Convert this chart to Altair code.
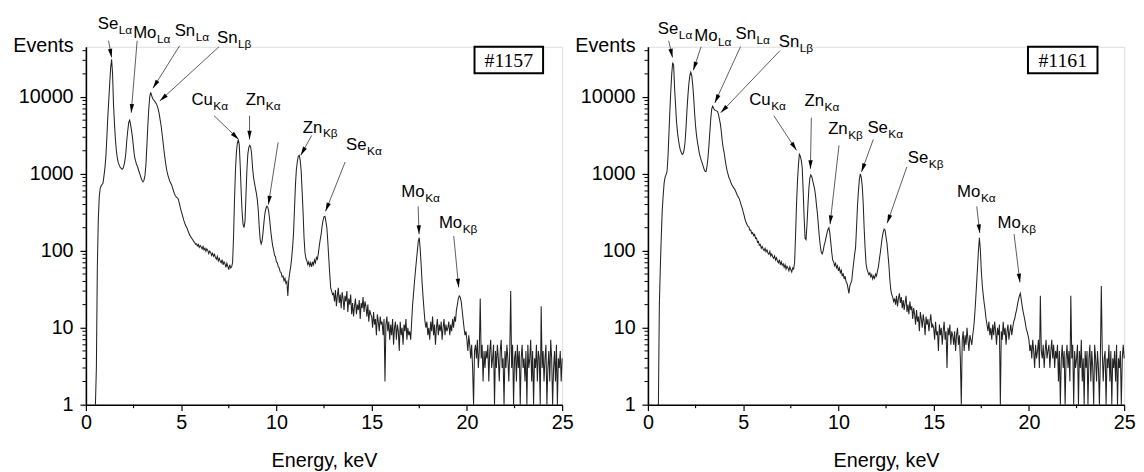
import math
import altair as alt
import pandas as pd

# ---------------- data ----------------
# channel energies: 0.50 .. 25.00 keV in 0.05 keV steps
E_START, E_STEP = 0.5, 0.05

counts_1157 = (
    [1, 3, 60, 250, 500, 650, 700, 730, 760, 950]
    + [1200, 1700, 3000, 5500, 9000, 15000, 24000, 31000, 20000, 8000, 4500, 2800, 2000, 1600, 1400, 1300, 1220, 1180, 1150, 1180]
    + [1300, 1500, 1900, 2800, 3700, 4700, 5000, 4300, 3600, 2900, 2200, 1700, 1500, 1350, 1260, 1150, 1050, 970, 880, 820]
    + [790, 830, 950, 1300, 2300, 4200, 7000, 10000, 11500, 10500, 9600, 9200, 8900, 8500, 8200, 7600, 6900, 6000, 5000, 4200]
    + [3300, 2600, 2000, 1600, 1300, 1100, 970, 880, 810, 760, 720, 660, 600, 550, 520, 500, 490, 470, 420, 370]
    + [330, 300, 270, 245, 225, 210, 200, 185, 172, 160, 154, 146, 141, 133, 130, 122, 124, 116, 121, 111]
    + [117, 112, 106, 114, 103, 108, 99, 106, 101, 92, 99, 95, 87, 93, 85, 90, 82, 78, 85, 74]
    + [80, 73, 70, 77, 66, 72, 68, 61, 69, 63, 57, 66, 60, 62, 70, 150, 450, 1100, 1900, 2500]
    + [2800, 2400, 1300, 600, 320, 220, 200, 240, 500, 1100, 1800, 2200, 2350, 2250, 1800, 1200, 900, 760, 650, 560]
    + [460, 330, 200, 140, 123, 135, 175, 240, 310, 355, 380, 370, 320, 250, 185, 145, 118, 104, 88, 84]
    + [72, 70, 62, 60, 53, 52, 46, 47, 41, 44, 38, 40, 26, 42, 52, 62, 80, 110, 170, 350]
    + [720, 1150, 1450, 1700, 1750, 1500, 1100, 600, 320, 150, 95, 80, 74, 66, 72, 64, 70, 62, 72, 66]
    + [76, 70, 82, 78, 91, 115, 140, 165, 210, 250, 278, 280, 240, 200, 130, 80, 50, 33, 30, 27]
    + [28, 22, 31, 19, 26, 33, 21, 27, 18, 29, 24, 17, 26, 22, 30, 16, 24, 20, 27, 15]
    + [21, 14, 19, 24, 15, 20, 17, 23, 13, 21, 18, 25, 16, 22, 19, 14, 20, 12, 17, 15]
    + [14, 10, 16, 11, 13, 8, 15, 12, 9, 14, 11, 12, 8, 13, 2, 11, 14, 9, 12, 7]
    + [11, 8, 13, 6, 10, 12, 7, 11, 9, 5, 12, 8, 10, 6, 11, 9, 13, 7, 10, 8]
    + [9, 7, 12, 20, 28, 40, 55, 75, 100, 135, 148, 105, 65, 38, 25, 17, 12, 10, 12, 8]
    + [10, 7, 12, 9, 14, 8, 11, 6, 10, 13, 8, 11, 9, 12, 7, 10, 13, 8, 11, 9]
    + [10, 12, 8, 11, 9, 13, 10, 14, 12, 17, 20, 24, 26, 25, 22, 17, 13, 10, 8, 9]
    + [7, 5, 8, 6, 4, 6, 3, 1, 5, 6, 4, 7, 3, 5, 24, 4, 6, 2, 5, 3]
    + [5, 4, 6, 2, 5, 7, 3, 4, 6, 1, 5, 3, 6, 4, 2, 5, 7, 3, 4, 1]
    + [5, 3, 6, 4, 2, 5, 30, 3, 6, 1, 4, 5, 2, 6, 3, 5, 1, 4, 6, 3]
    + [4, 2, 5, 1, 6, 3, 4, 7, 2, 5, 1, 4, 3, 6, 2, 5, 4, 1, 19, 3]
    + [5, 2, 4, 6, 1, 3, 5, 2, 7, 4, 1, 3, 5, 2, 6, 1, 4, 3, 5, 2]
    + [4]
)

counts_1161 = (
    [1, 1, 20, 60, 150, 330, 520, 760, 900, 980]
    + [1060, 1600, 3200, 6500, 12000, 20000, 28000, 26000, 13000, 8000, 4800, 3500, 2800, 2350, 2050, 1900, 1800, 1850, 2050, 2600]
    + [4000, 6800, 10500, 15000, 19000, 21000, 19000, 14500, 10000, 6200, 4200, 3200, 2600, 2200, 1850, 1650, 1500, 1380, 1260, 1150]
    + [1080, 1070, 1250, 1600, 2300, 3500, 5300, 7000, 7600, 7100, 6800, 6700, 6600, 6500, 6000, 5200, 4500, 3600, 2700, 2200]
    + [1900, 1550, 1300, 1120, 1000, 900, 850, 780, 730, 690, 660, 640, 600, 560, 520, 500, 470, 430, 390, 360]
    + [320, 290, 255, 235, 220, 208, 205, 186, 186, 168, 172, 158, 164, 145, 147, 130, 133, 118, 121, 108]
    + [114, 106, 101, 108, 97, 103, 94, 90, 98, 86, 91, 84, 80, 86, 76, 81, 73, 70, 77, 66]
    + [72, 65, 68, 61, 66, 58, 63, 60, 55, 62, 57, 53, 60, 58, 70, 160, 400, 800, 1300, 1800]
    + [1700, 1500, 1200, 600, 270, 145, 140, 220, 390, 650, 880, 970, 920, 820, 720, 640, 520, 390, 300, 210]
    + [150, 115, 96, 91, 100, 118, 130, 150, 170, 190, 200, 170, 128, 95, 76, 72, 64, 69, 60, 64]
    + [55, 60, 52, 56, 47, 51, 43, 47, 40, 38, 33, 28, 35, 38, 41, 55, 70, 90, 110, 200]
    + [380, 600, 850, 1000, 900, 700, 420, 200, 110, 68, 58, 53, 49, 52, 46, 49, 43, 47, 44, 50]
    + [47, 55, 62, 78, 95, 120, 150, 175, 192, 185, 150, 125, 90, 65, 42, 31, 27, 25, 22, 24]
    + [20, 26, 19, 24, 28, 21, 25, 18, 23, 17, 21, 26, 16, 20, 15, 22, 17, 19, 13, 18]
    + [15, 11, 17, 12, 14, 9, 16, 13, 10, 15, 12, 8, 14, 11, 13, 9, 12, 15, 10, 11]
    + [10, 7, 12, 8, 9, 5, 11, 8, 10, 6, 9, 12, 7, 9, 3, 10, 8, 11, 6, 9]
    + [8, 6, 9, 5, 8, 10, 6, 8, 4, 1, 7, 9, 5, 8, 6, 10, 7, 5, 8, 7]
    + [6, 8, 10, 14, 22, 36, 60, 100, 148, 105, 55, 36, 27, 21, 17, 13, 11, 9, 12, 8]
    + [10, 7, 11, 8, 12, 9, 6, 10, 8, 11, 1, 9, 7, 12, 8, 10, 6, 9, 11, 7]
    + [9, 11, 8, 10, 12, 13, 15, 17, 20, 23, 26, 28, 23, 19, 16, 14, 12, 10, 9, 8]
    + [7, 5, 6, 4, 7, 5, 3, 6, 4, 5, 7, 3, 26, 5, 4, 6, 3, 5, 7, 4]
    + [5, 6, 3, 5, 7, 4, 6, 3, 5, 4, 6, 2, 5, 1, 4, 6, 3, 5, 1, 4]
    + [6, 3, 5, 2, 26, 4, 6, 1, 5, 3, 4, 6, 1, 5, 3, 7, 2, 4, 1, 5]
    + [3, 5, 1, 4, 6, 2, 5, 3, 1, 6, 4, 2, 5, 3, 1, 4, 35, 5, 2, 4]
    + [5, 1, 4, 3, 6, 2, 5, 1, 4, 3, 5, 2, 6, 1, 4, 3, 5, 1, 4, 6]
    + [4]
)

# peak labels: element, line (subscript), anchor energy, anchor counts
lab1_el = ["Se", "Mo", "Sn", "Sn", "Cu", "Zn", "Zn", "Se", "Mo", "Mo"]
lab1_sub = ["Lα", "Lα", "Lα", "Lβ", "Kα", "Kα", "Kβ", "Kα", "Kα", "Kβ"]
lab1_e = [0.62, 2.48, 4.66, 6.88, 5.54, 8.39, 11.39, 13.66, 16.56, 18.53]
lab1_c = [77000, 59000, 62400, 50700, 7890, 7890, 3450, 2030, 507, 197]
# arrows: start (e1, c1) -> tip (e2, c2)
arr1_e1 = [1.19, 2.69, 4.92, 6.99, 6.73, 8.59, 10.09, 11.85, 13.61, 17.44, 19.31]
arr1_c1 = [53800, 53800, 46400, 45100, 5710, 5710, 2570, 3160, 1430, 378, 156]
arr1_e2 = [1.35, 2.38, 3.52, 3.88, 8.02, 8.59, 9.58, 11.28, 12.58, 17.49, 19.57]
arr1_c2 = [32600, 6240, 13000, 8890, 2810, 2810, 400, 1750, 326, 165, 33.5]

lab2_el = ["Se", "Mo", "Sn", "Sn", "Cu", "Zn", "Zn", "Se", "Se", "Mo", "Mo"]
lab2_sub = ["Lα", "Lα", "Lα", "Lβ", "Kα", "Kα", "Kβ", "Kα", "Kβ", "Kα", "Kβ"]
lab2_e = [0.52, 2.43, 4.60, 6.87, 5.32, 8.22, 9.46, 11.52, 13.64, 16.23, 18.35]
lab2_c = [66200, 53800, 57000, 45100, 7890, 7670, 3260, 3360, 1380, 507, 197]
arr2_e1 = [1.09, 2.79, 4.86, 6.93, 6.61, 8.58, 10.03, 11.83, 13.59, 17.26, 19.22]
arr2_c1 = [53800, 45100, 45100, 40000, 5710, 5380, 2350, 2810, 1230, 378, 165]
arr2_e2 = [1.29, 2.38, 3.51, 3.82, 7.80, 8.53, 9.56, 11.21, 12.56, 17.42, 19.53]
arr2_c2 = [32600, 22200, 8380, 6240, 2030, 1160, 222, 1060, 229, 170, 38.9]

# sample tags (box corners in data units, text)
tag1 = "#1157"
tag1_box = [20.4, 24.0, 45000, 20300]
tag2 = "#1161"
tag2_box = [19.95, 23.6, 45000, 20300]

x_major = [0, 5, 10, 15, 20, 25]
x_minor = [2.5, 7.5, 12.5, 17.5, 22.5]
y_major = [1, 10, 100, 1000, 10000]
y_minor = [m * d for d in (1, 10, 100, 1000) for m in range(2, 10)] + [20000, 30000, 40000]

# ---------------- styling ----------------
W, H = 483, 363
YMAX = 45000
FONT = "Liberation Sans"
LAB_FS, SUB_FS = 17, 12
# approximate text widths of element symbols at LAB_FS (Arial metrics)
EL_W = {"Se": 1.223, "Mo": 1.389, "Sn": 1.223, "Cu": 1.278, "Zn": 1.167}

xscale = alt.Scale(domain=[0, 25], nice=False, zero=False)
yscale = alt.Scale(type="log", domain=[1, YMAX], nice=False)

xaxis = alt.Axis(values=x_major, format="d", title="Energy, keV", grid=False,
                 labelFont=FONT, labelFontSize=20, labelColor="black", labelPadding=2,
                 labelFlush=False, labelOverlap=False,
                 titleFont=FONT, titleFontSize=20, titleFontWeight="normal", titleColor="black",
                 titlePadding=19,
                 tickSize=6, tickWidth=1.2, tickColor="black",
                 domainColor="black", domainWidth=1.6)
yaxis = alt.Axis(values=y_major, format="d", title="Events", grid=False,
                 labelFont=FONT, labelFontSize=20, labelColor="black", labelPadding=7,
                 labelFlush=False, labelOverlap=False,
                 titleFont=FONT, titleFontSize=20, titleFontWeight="normal", titleColor="black",
                 titleAngle=0, titleAlign="right", titleBaseline="alphabetic",
                 titleX=-13, titleY=5,
                 tickSize=6, tickWidth=1.2, tickColor="black",
                 domainColor="black", domainWidth=1.6)

LOGMAX = math.log10(YMAX)


def to_px(e, c):
    return e / 25 * W, H * (1 - math.log10(c) / LOGMAX)


def X(f):
    return alt.X(f, scale=xscale, axis=xaxis)


def Y(f):
    return alt.Y(f, scale=yscale, axis=yaxis)


def make_panel(counts, el, sub, le, lc, ae1, ac1, ae2, ac2, tag, box):
    energy = [round(E_START + i * E_STEP, 2) for i in range(len(counts))]
    spec = pd.DataFrame({"E": energy, "C": counts})

    line = alt.Chart(spec).mark_line(color="#222222", strokeWidth=1.05, interpolate="linear").encode(
        x=X("E:Q"), y=Y("C:Q"))

    xminor = alt.Chart(pd.DataFrame({"v": x_minor})).mark_rule(color="black", strokeWidth=1.2).encode(
        x=X("v:Q"), y=alt.value(H), y2=alt.value(H + 3.5))
    yminor = alt.Chart(pd.DataFrame({"v": y_minor})).mark_rule(color="black", strokeWidth=1).encode(
        y=Y("v:Q"), x=alt.value(0), x2=alt.value(-3.5))

    # labels
    pxk = W / 25
    sub_e = [e + (EL_W[s] * LAB_FS + 0.5) / pxk for e, s in zip(le, el)]
    labs = pd.DataFrame({"e": le, "c": lc, "t": el, "se": sub_e, "st": sub})
    main_txt = alt.Chart(labs).mark_text(font=FONT, fontSize=LAB_FS, align="left",
                                         baseline="alphabetic", color="black").encode(
        x=X("e:Q"), y=Y("c:Q"), text="t:N")
    sub_txt = alt.Chart(labs).mark_text(font=FONT, fontSize=SUB_FS, align="left",
                                        baseline="alphabetic", dy=5, color="black").encode(
        x=X("se:Q"), y=Y("c:Q"), text="st:N")

    # arrows
    angs = []
    for e1, c1, e2, c2 in zip(ae1, ac1, ae2, ac2):
        x1, y1 = to_px(e1, c1)
        x2, y2 = to_px(e2, c2)
        angs.append(math.degrees(math.atan2(x2 - x1, -(y2 - y1))) % 360)
    arr = pd.DataFrame({"e1": ae1, "c1": ac1, "e2": ae2, "c2": ac2, "ang": angs})
    shafts = alt.Chart(arr).mark_rule(color="#333", strokeWidth=0.8).encode(
        x=X("e1:Q"), y=Y("c1:Q"), x2="e2:Q", y2="c2:Q")
    heads = alt.Chart(arr).mark_point(shape="M0,0L0.55,2.2L-0.55,2.2Z", filled=True, size=64,
                                      color="black", opacity=1).encode(
        x=X("e2:Q"), y=Y("c2:Q"), angle=alt.Angle("ang:Q", scale=None))

    # sample tag box
    bx = pd.DataFrame({"e1": [box[0]], "e2": [box[1]], "c1": [box[2]], "c2": [box[3]],
                       "em": [(box[0] + box[1]) / 2], "cm": [math.sqrt(box[2] * box[3])], "t": [tag]})
    rect = alt.Chart(bx).mark_rect(fillOpacity=0, stroke="black", strokeWidth=2).encode(
        x=X("e1:Q"), x2="e2:Q", y=Y("c1:Q"), y2="c2:Q")
    rtxt = alt.Chart(bx).mark_text(font="Liberation Serif", fontSize=20, align="center",
                                   baseline="middle", color="black", dy=1).encode(
        x=X("em:Q"), y=Y("cm:Q"), text="t:N")

    return alt.layer(line, xminor, yminor, shafts, heads, main_txt, sub_txt, rect, rtxt).properties(
        width=W, height=H)


p1 = make_panel(counts_1157, lab1_el, lab1_sub, lab1_e, lab1_c,
                arr1_e1, arr1_c1, arr1_e2, arr1_c2, tag1, tag1_box)
p2 = make_panel(counts_1161, lab2_el, lab2_sub, lab2_e, lab2_c,
                arr2_e1, arr2_c1, arr2_e2, arr2_c2, tag2, tag2_box)

chart = alt.hconcat(p1, p2, spacing=87, bounds="flush").properties(
    padding={"left": 4, "top": 3, "right": 0, "bottom": 0}
).configure_view(stroke=None).configure(background="white")

chart.save("out.html", embed_options={"renderer": "svg", "actions": False})
